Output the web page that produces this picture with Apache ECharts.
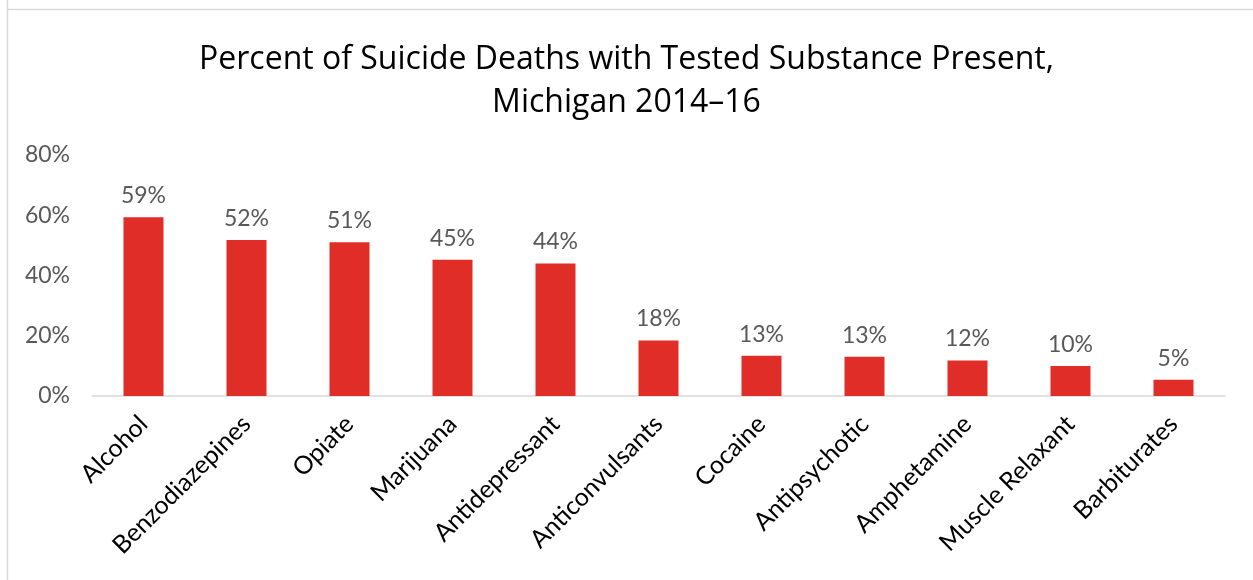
<!DOCTYPE html>
<html><head><meta charset="utf-8">
<script src="https://cdn.jsdelivr.net/npm/echarts@6/dist/echarts.min.js"></script>
<style>html,body{margin:0;padding:0;background:#fff}#c{width:1253px;height:580px}</style>
</head><body><div id="c"></div>
<script>
const categories = ['Alcohol','Benzodiazepines','Opiate','Marijuana','Antidepressant','Anticonvulsants','Cocaine','Antipsychotic','Amphetamine','Muscle Relaxant','Barbiturates'];
const values = [59.3, 51.8, 51.0, 45.2, 44.0, 18.4, 13.4, 13.0, 11.8, 10.0, 5.4];
const yTicks = [0, 20, 40, 60, 80];
const titleText = 'Percent of Suicide Deaths with Tested Substance Present,\nMichigan 2014\u201316';

const chart = echarts.init(document.getElementById('c'), null, {renderer:'canvas'});
chart.setOption({
  animation:false,
  backgroundColor:'#fff',
  title:{
    text:titleText, left:'center', top:33,
    textStyle:{fontFamily:'Open Sans', fontSize:32, fontWeight:'normal', color:'#000', lineHeight:43}
  },
  graphic:[
    {type:'line', shape:{x1:7.5,y1:0,x2:7.5,y2:580}, style:{stroke:'#d9d9d9', lineWidth:1.5}},
    {type:'line', shape:{x1:7,y1:9.5,x2:1253,y2:9.5}, style:{stroke:'#d9d9d9', lineWidth:1.5}}
  ],
  grid:{left:92, right:28, top:155, bottom:184},
  xAxis:{
    type:'category', data:categories,
    axisLine:{lineStyle:{color:'#d9d9d9', width:1.5}},
    axisTick:{show:false},
    axisLabel:{rotate:45, interval:0, margin:24, color:'#000', fontFamily:'Lato', fontSize:25}
  },
  yAxis:{
    type:'value', min:yTicks[0], max:yTicks[yTicks.length-1], interval:20,
    splitLine:{show:false}, axisLine:{show:false}, axisTick:{show:false},
    axisLabel:{formatter:v=>v+'%', color:'#595959', fontFamily:'Lato', fontSize:23, margin:22}
  },
  series:[{
    type:'bar', data:values, barWidth:40,
    itemStyle:{color:'#E02D27'},
    label:{show:true, position:'top', distance:10, formatter:p=>Math.round(p.value)+'%', color:'#595959', fontFamily:'Lato', fontSize:23}
  }]
});
</script></body></html>
